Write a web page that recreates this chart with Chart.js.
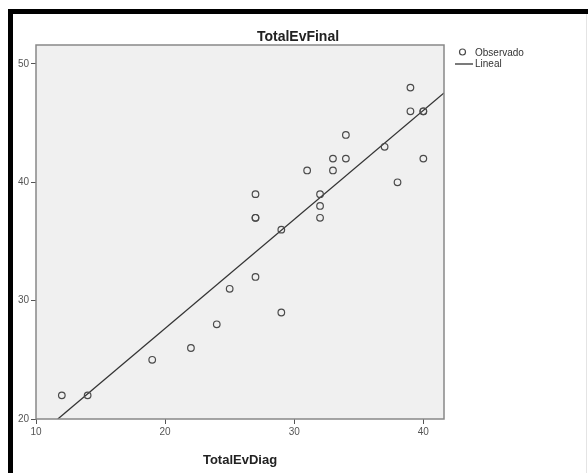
<!DOCTYPE html>
<html>
<head>
<meta charset="utf-8">
<script src="https://cdn.jsdelivr.net/npm/chart.js@4/dist/chart.umd.min.js"></script>
<style>
html,body{margin:0;padding:0;background:#fff;}
#wrap{width:588px;height:473px;position:relative;}
</style>
</head>
<body>
<div id="wrap"><canvas id="c" width="588" height="473"></canvas></div>
<script>
// Data
const diagValues  = [12,14,19,22,24,25,27,29,29,27,27,27,32,32,32,31,33,33,34,34,37,38,39,39,40,40,40];
const finalValues = [22,22,25,26,28,31,32,29,36,37,37,39,37,38,39,41,41,42,42,44,43,40,48,46,46,46,42];
const fitX = [11.69, 41.6];
const fitY = [20, 47.55];
const xTicks = [10, 20, 30, 40];
const yTicks = [20, 30, 40, 50];
const chartTitle = 'TotalEvFinal';
const xTitle = 'TotalEvDiag';
const legendLabels = ['Observado', 'Lineal'];

const FONT = "'Liberation Sans', Arial, sans-serif";

const observed = diagValues.map((x, i) => ({x: x, y: finalValues[i]}));
const fitLine = fitX.map((x, i) => ({x: x, y: fitY[i]}));

const framePlugin = {
  id: 'frame',
  beforeDraw(chart) {
    const ctx = chart.ctx, a = chart.chartArea;
    ctx.save();
    ctx.fillStyle = '#ffffff';
    ctx.fillRect(0, 0, chart.width, chart.height);
    ctx.fillStyle = '#f0f0f0';
    ctx.fillRect(a.left, a.top, a.right - a.left, a.bottom - a.top);
    ctx.restore();
  },
  afterDraw(chart) {
    const ctx = chart.ctx, a = chart.chartArea;
    ctx.save();
    // plot box
    ctx.strokeStyle = '#888888';
    ctx.lineWidth = 1.5;
    ctx.strokeRect(a.left, a.top, a.right - a.left, a.bottom - a.top);
    // outer black frame
    ctx.fillStyle = '#000000';
    ctx.fillRect(8, 9, 5, chart.height - 9);
    ctx.fillRect(8, 9, chart.width - 8, 5);
    ctx.fillStyle = '#e4e4e4';
    ctx.fillRect(586, 14, 1, chart.height - 14);
    // title
    ctx.fillStyle = '#222222';
    ctx.font = 'bold 14px ' + FONT;
    ctx.textAlign = 'center';
    ctx.textBaseline = 'middle';
    ctx.fillText(chartTitle, 298, 37);
    // legend
    ctx.textAlign = 'left';
    ctx.font = '10px ' + FONT;
    ctx.fillStyle = '#333333';
    ctx.strokeStyle = '#4a4a4a';
    ctx.lineWidth = 1.2;
    ctx.beginPath();
    ctx.arc(462.5, 52, 3, 0, Math.PI * 2);
    ctx.stroke();
    ctx.fillText(legendLabels[0], 475, 53);
    ctx.strokeStyle = '#333333';
    ctx.lineWidth = 1.3;
    ctx.beginPath();
    ctx.moveTo(455, 64);
    ctx.lineTo(473, 64);
    ctx.stroke();
    ctx.fillText(legendLabels[1], 475, 64);
    ctx.restore();
  }
};

new Chart(document.getElementById('c'), {
  type: 'scatter',
  data: {
    datasets: [
      {
        label: legendLabels[0],
        data: observed,
        pointStyle: 'circle',
        pointRadius: 3.3,
        pointBorderWidth: 1.2,
        pointBorderColor: '#4a4a4a',
        pointBackgroundColor: 'rgba(0,0,0,0)',
        showLine: false
      },
      {
        label: legendLabels[1],
        data: fitLine,
        showLine: true,
        borderColor: '#333333',
        borderWidth: 1.3,
        pointRadius: 0,
        fill: false
      }
    ]
  },
  options: {
    responsive: false,
    animation: false,
    events: [],
    layout: {padding: {left: 0, top: 45, right: 144, bottom: 0}},
    plugins: {
      legend: {display: false},
      title: {display: false},
      tooltip: {enabled: false}
    },
    scales: {
      x: {
        type: 'linear',
        min: 10,
        max: 41.6,
        afterFit: s => { s.height = 54; },
        afterBuildTicks: s => { s.ticks = xTicks.map(v => ({value: v})); },
        ticks: {color: '#555', font: {size: 10, family: FONT}, padding: 2, maxRotation: 0, includeBounds: false},
        grid: {drawOnChartArea: false, drawTicks: true, tickLength: 5, color: '#555'},
        border: {display: false},
        title: {display: true, text: xTitle, color: '#222', font: {size: 13, weight: 'bold', family: FONT}, padding: {top: 0, bottom: 5}}
      },
      y: {
        type: 'linear',
        min: 20,
        max: 51.6,
        afterFit: s => { s.width = 36; },
        afterBuildTicks: s => { s.ticks = yTicks.map(v => ({value: v})); },
        ticks: {color: '#555', font: {size: 10, family: FONT}, padding: 2, includeBounds: false},
        grid: {drawOnChartArea: false, drawTicks: true, tickLength: 5, color: '#555'},
        border: {display: false}
      }
    }
  },
  plugins: [framePlugin]
});
</script>
</body>
</html>
